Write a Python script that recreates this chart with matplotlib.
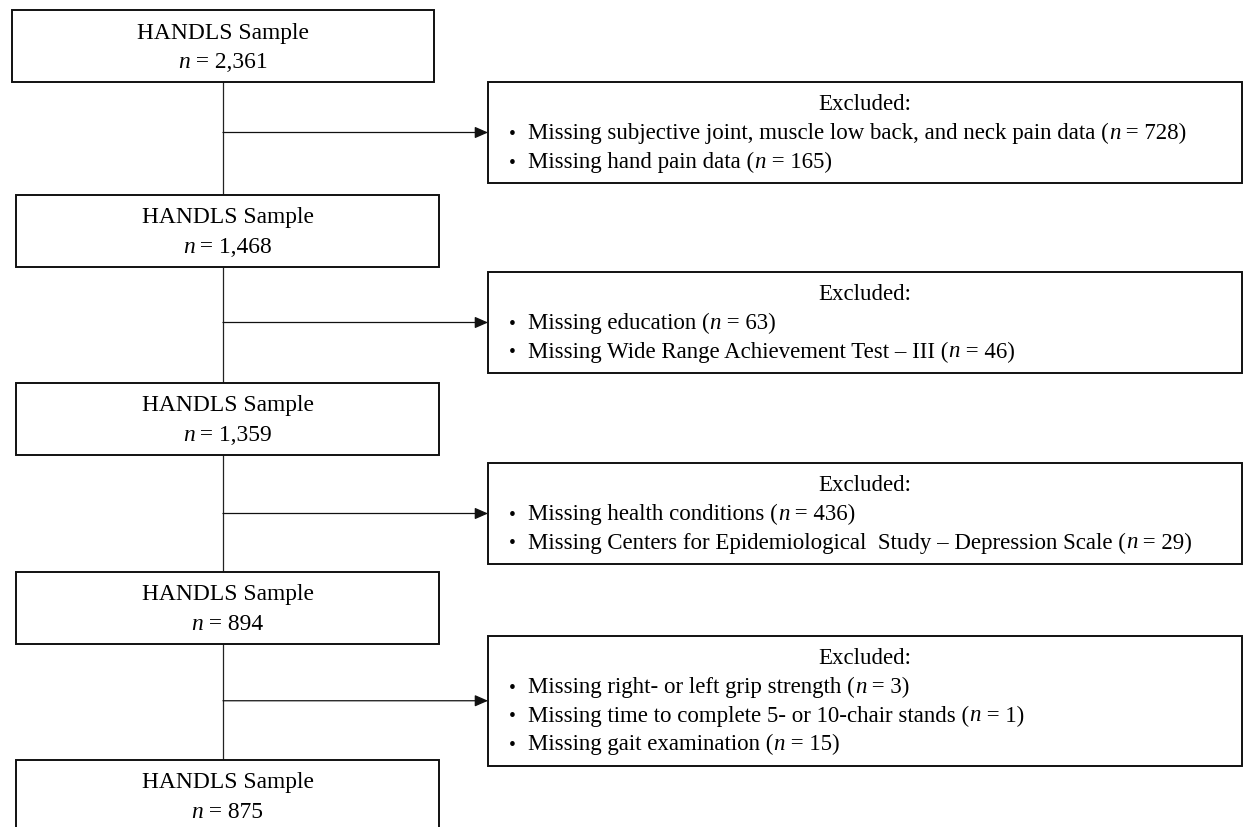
import matplotlib
matplotlib.use("Agg")
import matplotlib.pyplot as plt
from matplotlib.patches import Rectangle

# flowchart content
SAMPLE_LABEL = "HANDLS Sample"
SAMPLE_N = ["2,361", "1,468", "1,359", "894", "875"]
EXCL_TITLE = "Excluded:"
EXCL_REASONS = [
    ["Missing subjective joint, muscle low back, and neck pain data", "Missing hand pain data"],
    ["Missing education", "Missing Wide Range Achievement Test \u2013 III"],
    ["Missing health conditions", "Missing Centers for Epidemiological  Study \u2013 Depression Scale"],
    ["Missing right- or left grip strength", "Missing time to complete 5- or 10-chair stands",
     "Missing gait examination"],
]
EXCL_N = [["728", "165"], ["63", "46"], ["436", "29"], ["3", "1", "15"]]

plt.rcParams["font.family"] = ["Liberation Serif", "DejaVu Serif"]

W, H = 1248, 828
fig = plt.figure(figsize=(W / 100, H / 100), dpi=100)
ax = fig.add_axes([0, 0, 1, 1])
ax.set_xlim(0, W); ax.set_ylim(H, 0); ax.axis("off")
renderer = fig.canvas.get_renderer()

# layout (pixels, 1 data unit = 1 px)
left_x = [(12, 434)] + [(16, 439)] * 4
left_top = [11, 196, 384, 573, 761]
left_h = 72
spine_x = 223
right_x0, right_x1 = 488, 1242
right_top = [83, 273, 464, 637]
line_h = 28.5
fs_left, fs_right = 16.9, 16.5
edge = "#111111"


def runs(x, y, parts, fs, ha="left"):
    """draw [(text, italic)] pieces side by side, n in italic like the source"""
    objs = [ax.text(0, y, t, fontsize=fs, style="italic" if it else "normal",
                    ha="left", va="center", zorder=4) for t, it in parts]
    widths = [o.get_window_extent(renderer).width for o in objs]
    if ha == "center":
        x -= sum(widths) / 2
    for o, w in zip(objs, widths):
        o.set_x(x)
        x += w


# left sample boxes
for (x0, x1), top, n in zip(left_x, left_top, SAMPLE_N):
    ax.add_patch(Rectangle((x0, top), x1 - x0, left_h, fill=True, fc="white",
                           ec=edge, lw=1.4, zorder=3))
    cx = (x0 + x1) / 2
    ax.text(cx, top + 22, SAMPLE_LABEL, ha="center", va="center", fontsize=fs_left, zorder=4)
    runs(cx, top + 52, [("n", True), (" = " + n, False)], fs_left, ha="center")

# spine between left boxes
for i in range(len(left_top) - 1):
    ax.plot([spine_x, spine_x], [left_top[i] + left_h, left_top[i + 1]],
            color="#222222", lw=0.9, zorder=2)

# exclusion boxes + arrows
for top, reasons, ns in zip(right_top, EXCL_REASONS, EXCL_N):
    nlines = len(reasons) + 1
    h = 22 + (nlines - 1) * line_h + 22
    ax.add_patch(Rectangle((right_x0, top), right_x1 - right_x0, h, fill=True, fc="white",
                           ec=edge, lw=1.4, zorder=3))
    ay = top + h / 2
    ax.annotate("", xy=(right_x0, ay), xytext=(spine_x, ay),
                arrowprops=dict(arrowstyle="-|>,head_length=0.8,head_width=0.35",
                                color="#111111", lw=0.9, shrinkA=0, shrinkB=0), zorder=2)
    ax.text((right_x0 + right_x1) / 2, top + 22, EXCL_TITLE, ha="center", va="center",
            fontsize=fs_right, zorder=4)
    for j, (r, n) in enumerate(zip(reasons, ns)):
        y = top + 22 + (j + 1) * line_h
        ax.text(509, y + 1, "\u2022", ha="left", va="center", fontsize=14, zorder=4)
        runs(528, y, [(r + " (", False), ("n", True), (" = " + n + ")", False)], fs_right)

fig.savefig("out.png", dpi=100)
